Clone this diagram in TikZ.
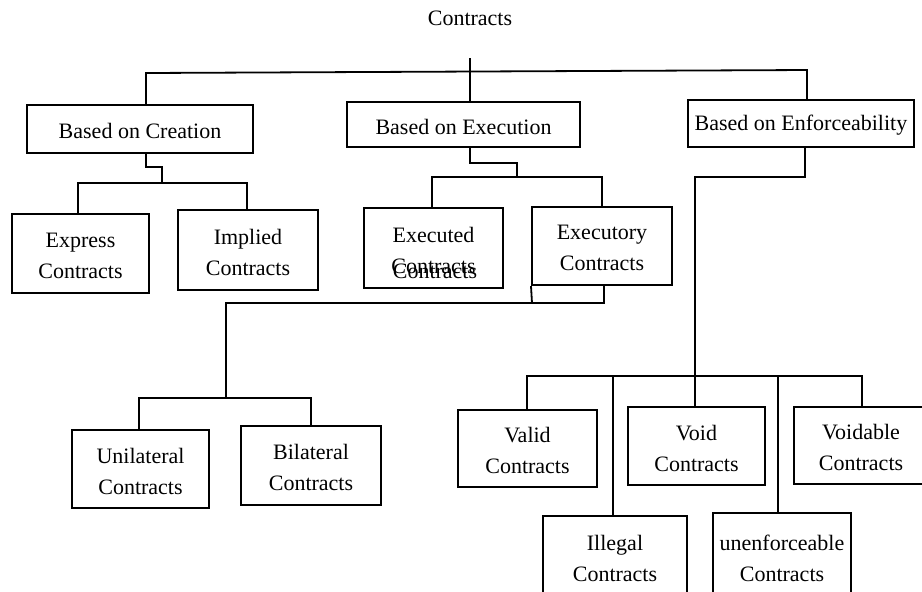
\documentclass[tikz,border=0pt]{standalone}
\usepackage{fontspec}
\setmainfont{Liberation Serif}
\usetikzlibrary{fit}
\begin{document}
\begin{tikzpicture}[x=0.5pt,y=-0.5pt,
  box/.style={draw, line width=1pt, inner sep=0pt},
  conn/.style={line width=0.9pt},
  lbl/.style={font=\fontsize{11}{15.5}\selectfont, inner sep=0pt, align=center, yshift=-1pt}]
\useasboundingbox (0,0) rectangle (922,591);
\clip (0,0) rectangle (922,591);

% title
\node[lbl, yshift=1pt] (title) at (470,18) {Contracts};

% first level
\node[box, fit={(27,105)(253,153)}] (cre) {};
\node[lbl] (cre-t) at (cre) {Based on Creation};
\node[box, fit={(347,102)(580,147)}] (exe) {};
\node[lbl] (exe-t) at (exe) {Based on Execution};
\node[box, fit={(688,100)(914,147)}] (enf) {};
\node[lbl] (enf-t) at (enf) {Based on Enforceability};

% second level
\node[box, fit={(12,214)(149,293)}] (exp) {};
\node[lbl] (exp-t) at (exp) {Express\\Contracts};
\node[box, fit={(178,210)(318,290)}] (imp) {};
\node[lbl] (imp-t) at (imp) {Implied\\Contracts};
\node[box, fit={(364,208)(503,288)}] (exd) {};
\node[lbl] (exd-t) at (exd) {Executed\\Contracts};
\node[lbl, yshift=1pt] (exdghost) at (435,271) {Contracts};
\node[box, fit={(532,207)(672,285)}] (exy) {};
\node[lbl] (exy-t) at (exy) {Executory\\Contracts};

% executory children
\node[box, fit={(72,430)(209,508)}] (uni) {};
\node[lbl] (uni-t) at (uni) {Unilateral\\Contracts};
\node[box, fit={(241,426)(381,505)}] (bil) {};
\node[lbl] (bil-t) at (bil) {Bilateral\\Contracts};

% enforceability children
\node[box, fit={(458,410)(597,487)}] (val) {};
\node[lbl] (val-t) at (val) {Valid\\Contracts};
\node[box, fit={(628,407)(765,485)}] (voi) {};
\node[lbl] (voi-t) at (voi) {Void\\Contracts};
\node[box, fit={(794,407)(928,484)}] (vdb) {};
\node[lbl] (vdb-t) at (vdb) {Voidable\\Contracts};
\node[box, fit={(543,516)(687,596)}] (ill) {};
\node[lbl] (ill-t) at (ill) {Illegal\\Contracts};
\node[box, fit={(713,513)(851,599)}] (une) {};
\node[lbl] (une-t) at (une) {unenforceable\\Contracts};

% top bus
\coordinate (ttop) at (470,58);
\coordinate (tl) at (146,73);
\coordinate (tr) at (807,70);
\draw[conn] (ttop) -- (ttop |- exe.north);
\draw[conn] (cre.north -| tl) -- (tl) -- (tr) -- (enf.north -| tr);

% creation
\coordinate (c1) at (146,167);
\coordinate (c2) at (162,183);
\coordinate (cl) at (78,183);
\coordinate (cr) at (247,183);
\draw[conn] (cre.south -| c1) -- (c1) -| (c2);
\draw[conn] (exp.north -| cl) -- (cl) -- (cr) -- (imp.north -| cr);

% execution
\coordinate (e1) at (470,163);
\coordinate (e2) at (517,177);
\coordinate (el) at (432,177);
\coordinate (er) at (602,177);
\draw[conn] (exe.south -| e1) -- (e1) -| (e2);
\draw[conn] (exd.north -| el) -- (el) -- (er) -- (exy.north -| er);

% executory
\coordinate (y1) at (604,303);
\coordinate (y0) at (532,303);
\coordinate (yl) at (226,303);
\coordinate (u0) at (226,398);
\coordinate (ul) at (139,398);
\coordinate (ur) at (311,398);
\draw[conn] (exy.south -| y1) -- (y1) -- (yl) -- (u0);
\draw[conn] (exy.south west) -- (y0);
\draw[conn] (uni.north -| ul) -- (ul) -- (ur) -- (bil.north -| ur);

% enforceability
\coordinate (f1) at (805,177);
\coordinate (f2) at (695,177);
\coordinate (vl) at (527,376);
\coordinate (vr) at (862,376);
\coordinate (i0) at (613,376);
\coordinate (n0) at (778,376);
\draw[conn] (enf.south -| f1) -- (f1) -- (f2) -- (f2 |- voi.north);
\draw[conn] (val.north -| vl) -- (vl) -- (vr) -- (vdb.north -| vr);
\draw[conn] (i0) -- (ill.north -| i0);
\draw[conn] (n0) -- (une.north -| n0);
\end{tikzpicture}
\end{document}
